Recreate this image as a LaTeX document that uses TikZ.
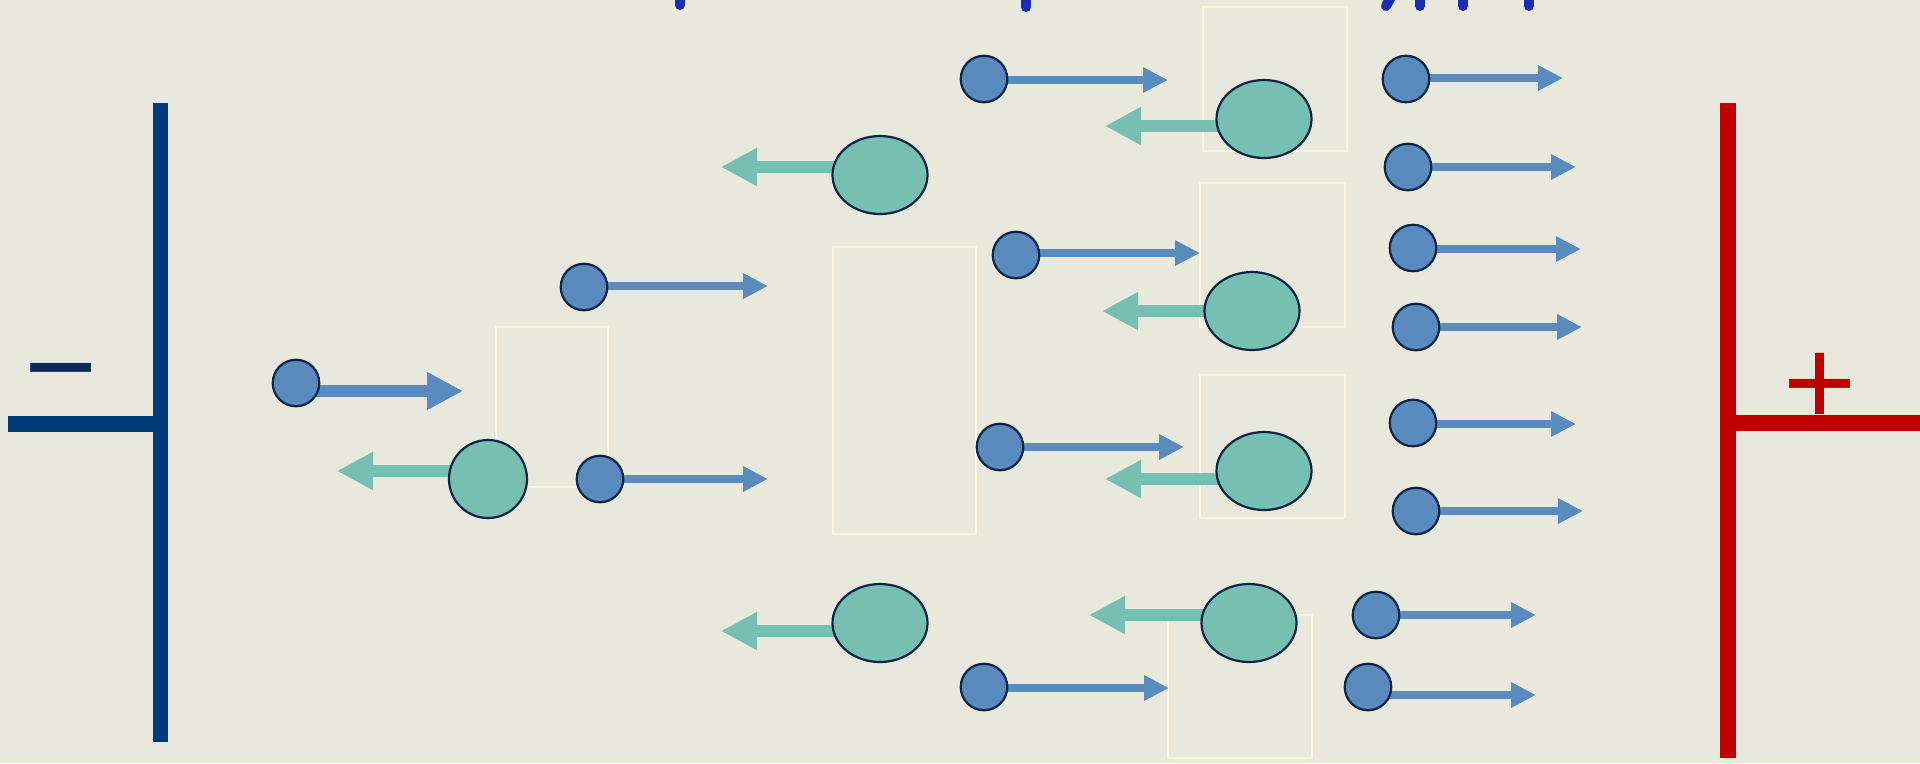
\documentclass[tikz,border=0pt]{standalone}
\usepackage{fontspec}
\newfontfamily\signfont{Liberation Sans}
\usetikzlibrary{arrows.meta,shapes.geometric}

\definecolor{ground}{HTML}{E9E8DC}
\definecolor{paper}{HTML}{FAF7DA}
\definecolor{platenavy}{HTML}{003C7C}
\definecolor{minusnavy}{HTML}{0B2A56}
\definecolor{platered}{HTML}{C00000}
\definecolor{titleblue}{HTML}{1A2DB4}
\definecolor{anblue}{HTML}{5A8BBF}
\definecolor{catgreen}{HTML}{77C0B1}
\definecolor{rim}{HTML}{0C2547}

\pgfdeclarelayer{back}
\pgfsetlayers{back,main}

\begin{document}
\begin{tikzpicture}[x=0.1mm,y=-0.1mm]
\tikzstyle{anion}=[circle,draw=rim,fill=anblue,line width=0.22mm,minimum size=4.65mm,inner sep=0pt]
\tikzstyle{cation}=[ellipse,draw=rim,fill=catgreen,line width=0.22mm,minimum width=9.5mm,minimum height=7.8mm,inner sep=0pt]
\tikzstyle{drift}=[anblue,line width=0.75mm,-{Triangle[length=2.5mm,width=2.4mm]}]
\tikzstyle{bigdrift}=[line width=1.17mm,-{Triangle[length=3.6mm,width=3.56mm]}]
\tikzstyle{patch}=[draw=paper,line width=0.15mm]
\tikzstyle{stub}=[titleblue,line width=1mm,line cap=round]
\tikzstyle{sign}=[font=\signfont\fontsize{35.6}{36}\selectfont,inner sep=0pt]

\useasboundingbox (0,0) rectangle (1920,763);
\begin{pgfonlayer}{back}
\fill[ground] (0,0) rectangle (1920,763);
\draw[patch] (496,327) rectangle (608,487);
\draw[patch] (833,247) rectangle (976,534);
\draw[patch] (1203,7) rectangle (1347,151);
\draw[patch] (1200,183) rectangle (1345,327);
\draw[patch] (1200,375) rectangle (1345,518);
\draw[patch] (1168,615) rectangle (1312,758);
\end{pgfonlayer}

% heading line, only its descenders are in view
\draw[stub] (680,-10) -- (680,5);
\draw[stub] (1026,-10) -- (1026,7);
\draw[stub] (1395,-10) -- (1386,6);
\draw[stub] (1420,-10) -- (1420,6);
\draw[stub] (1463,-10) -- (1463,6);
\draw[stub] (1529,-10) -- (1529,6);

% electrodes
\draw[platenavy,line width=1.57mm] (160.5,103) -- (160.5,742);
\draw[platenavy,line width=1.57mm] (8,423.7) -- (160.5,423.7);
\draw[platered,line width=1.53mm] (1728,103) -- (1728,758);
\draw[platered,line width=1.53mm] (1728,423) -- (1925,423);
\node[sign,text=minusnavy] (minus) at (61,386) {−};
\node[sign,text=platered] (plus) at (1820.5,389) {+};

% negative ions
\node[anion] (an1) at (296,383) {};
\node[anion] (an2) at (584,287) {};
\node[anion] (an3) at (600,479) {};
\node[anion] (an4) at (984,79) {};
\node[anion] (an5) at (1016,255) {};
\node[anion] (an6) at (1000,447) {};
\node[anion] (an7) at (984,687) {};
\node[anion] (an8) at (1406,79) {};
\node[anion] (an9) at (1408,167) {};
\node[anion] (an10) at (1413,248) {};
\node[anion] (an11) at (1416,327) {};
\node[anion] (an12) at (1413,423) {};
\node[anion] (an13) at (1416,511) {};
\node[anion] (an14) at (1376,615) {};
\node[anion] (an15) at (1368,687) {};

% positive ions
\node[cation,minimum width=7.8mm] (cat1) at (488,479) {};
\node[cation] (cat2) at (880,175) {};
\node[cation] (cat3) at (1264,119) {};
\node[cation] (cat4) at (1252,311) {};
\node[cation] (cat5) at (1264,471) {};
\node[cation] (cat6) at (880,623) {};
\node[cation] (cat7) at (1249,623) {};

% where each ion heads
\coordinate (to1) at (463,391);   \coordinate (to2) at (768,286);
\coordinate (to3) at (768,479);   \coordinate (to4) at (1168,80);
\coordinate (to5) at (1200,253);  \coordinate (to6) at (1184,447);
\coordinate (to7) at (1169,688);  \coordinate (to8) at (1563,78);
\coordinate (to9) at (1576,167);  \coordinate (to10) at (1581,249);
\coordinate (to11) at (1582,327); \coordinate (to12) at (1576,424);
\coordinate (to13) at (1583,511); \coordinate (to14) at (1536,615);
\coordinate (to15) at (1536,695);
\coordinate (back1) at (337,471);  \coordinate (back2) at (721,167);
\coordinate (back3) at (1105,126); \coordinate (back4) at (1102,311);
\coordinate (back5) at (1105,479); \coordinate (back6) at (721,631);
\coordinate (back7) at (1089,615);

\begin{pgfonlayer}{back}
\draw[bigdrift,anblue] (an1 |- to1) -- (to1);
\draw[drift] (an2 |- to2) -- (to2);     \draw[drift] (an3 |- to3) -- (to3);
\draw[drift] (an4 |- to4) -- (to4);     \draw[drift] (an5 |- to5) -- (to5);
\draw[drift] (an6 |- to6) -- (to6);     \draw[drift] (an7 |- to7) -- (to7);
\draw[drift] (an8 |- to8) -- (to8);     \draw[drift] (an9 |- to9) -- (to9);
\draw[drift] (an10 |- to10) -- (to10);  \draw[drift] (an11 |- to11) -- (to11);
\draw[drift] (an12 |- to12) -- (to12);  \draw[drift] (an13 |- to13) -- (to13);
\draw[drift] (an14 |- to14) -- (to14);  \draw[drift] (an15 |- to15) -- (to15);
\draw[bigdrift,catgreen] (cat1 |- back1) -- (back1);
\draw[bigdrift,catgreen] (cat2 |- back2) -- (back2);
\draw[bigdrift,catgreen] (cat3 |- back3) -- (back3);
\draw[bigdrift,catgreen] (cat4 |- back4) -- (back4);
\draw[bigdrift,catgreen] (cat5 |- back5) -- (back5);
\draw[bigdrift,catgreen] (cat6 |- back6) -- (back6);
\draw[bigdrift,catgreen] (cat7 |- back7) -- (back7);
\end{pgfonlayer}
\end{tikzpicture}
\end{document}
